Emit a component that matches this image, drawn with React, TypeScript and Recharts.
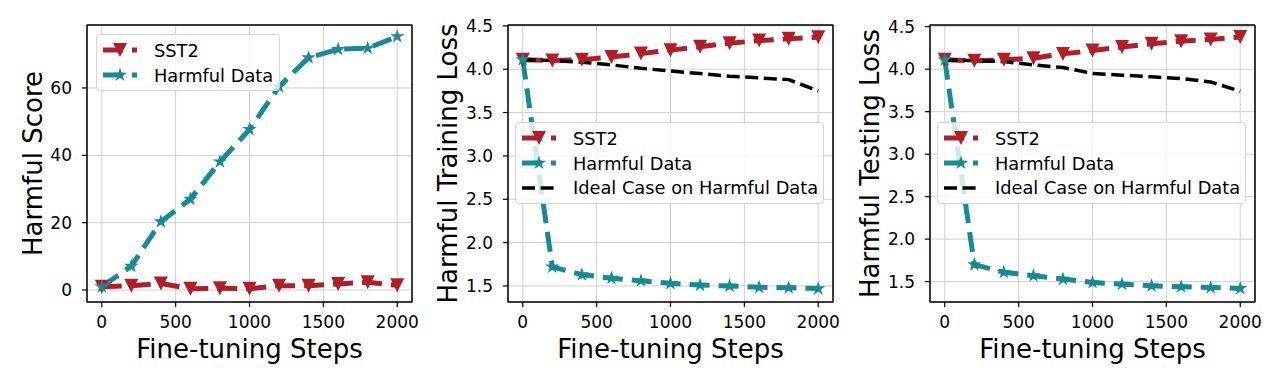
import { LineChart, Line, XAxis, YAxis, CartesianGrid, ReferenceLine, Legend } from "recharts";

const steps = [0, 200, 400, 600, 800, 1000, 1200, 1400, 1600, 1800, 2000];
const xTicks = [0, 500, 1000, 1500, 2000];

// harmful score
const scoreSST2 = [1.0, 1.3, 1.9, 0.4, 0.5, 0.4, 1.3, 1.3, 1.8, 2.3, 1.4];
const scoreHarmful = [1.0, 7.1, 20.3, 27.0, 38.1, 47.7, 60.4, 69.0, 71.5, 71.8, 75.3];
const scoreTicks = [0, 20, 40, 60];

// harmful training loss
const trainSST2 = [4.11, 4.1, 4.11, 4.14, 4.18, 4.22, 4.26, 4.3, 4.33, 4.35, 4.37];
const trainHarmful = [4.11, 1.72, 1.63, 1.59, 1.56, 1.53, 1.51, 1.5, 1.485, 1.48, 1.47];
const trainIdeal = [4.11, 4.1, 4.08, 4.05, 4.01, 3.98, 3.95, 3.92, 3.9, 3.88, 3.75];

// harmful testing loss
const testSST2 = [4.11, 4.1, 4.11, 4.13, 4.18, 4.22, 4.26, 4.3, 4.33, 4.35, 4.38];
const testHarmful = [4.11, 1.7, 1.61, 1.57, 1.53, 1.49, 1.47, 1.45, 1.44, 1.43, 1.42];
const testIdeal = [4.11, 4.1, 4.09, 4.05, 4.02, 3.95, 3.93, 3.91, 3.89, 3.85, 3.74];

const lossTicks = [1.5, 2.0, 2.5, 3.0, 3.5, 4.0, 4.5];

const RED = "#B01F27";
const TEAL = "#178B93";
const FONT = "DejaVu Sans";

const rows = (a: number[], b: number[], c?: number[]) =>
  steps.map((s, i) => ({ step: s, sst2: a[i], harmful: b[i], ideal: c ? c[i] : undefined }));

const triPath = (cx: number, cy: number, s = 7) =>
  `M${cx - s},${cy - s}L${cx + s},${cy - s}L${cx},${cy + s}Z`;

const starPath = (cx: number, cy: number, r = 7.5) => {
  const pts: string[] = [];
  for (let k = 0; k < 10; k++) {
    const rad = k % 2 === 0 ? r : r * 0.382;
    const a = -Math.PI / 2 + (k * Math.PI) / 5;
    pts.push(`${cx + rad * Math.cos(a)},${cy + rad * Math.sin(a)}`);
  }
  return "M" + pts.join("L") + "Z";
};

const TriangleDot = (p: any) => {
  if (p.cx == null || p.cy == null) return <g key={p.index} />;
  return <path key={p.index} d={triPath(p.cx, p.cy)} fill={RED} />;
};

const StarDot = (p: any) => {
  if (p.cx == null || p.cy == null) return <g key={p.index} />;
  return <path key={p.index} d={starPath(p.cx, p.cy)} fill={TEAL} />;
};

const legendItems = [
  { key: "sst2", label: "SST2", color: RED, width: 5, dash: "20 9", marker: "tri" },
  { key: "harmful", label: "Harmful Data", color: TEAL, width: 5, dash: "20 9", marker: "star" },
  { key: "ideal", label: "Ideal Case on Harmful Data", color: "#000", width: 3.5, dash: "13 5.6", marker: "" },
];

const makeLegend = (keys: string[], boxWidth: number) => () => (
  <div
    style={{
      width: boxWidth,
      boxSizing: "border-box",
      background: "rgba(255,255,255,0.8)",
      border: "1px solid #d4d4d4",
      borderRadius: 4,
      padding: "3px 0 3px 6px",
      fontFamily: FONT,
      fontSize: 17.8,
      color: "#000",
    }}
  >
    {legendItems
      .filter((it) => keys.includes(it.key))
      .map((it) => (
        <div key={it.key} style={{ display: "flex", alignItems: "center", height: 24.7 }}>
          <svg width={50} height={20} style={{ flex: "none" }}>
            <line x1={0} y1={10} x2={34} y2={10} stroke={it.color} strokeWidth={it.width} strokeDasharray={it.dash} />
            {it.marker === "tri" && <path d={triPath(17, 10)} fill={it.color} />}
            {it.marker === "star" && <path d={starPath(17, 10)} fill={it.color} />}
          </svg>
          <span style={{ marginLeft: 1, whiteSpace: "nowrap" }}>{it.label}</span>
        </div>
      ))}
  </div>
);

type PanelProps = {
  data: any[];
  yDomain: [number, number];
  yTicks: number[];
  yFmt: (v: number) => string;
  yLabel: string;
  yLabelX: number;
  ideal: boolean;
  legendLeft: number;
  legendTop: number;
  legendWidth: number;
};

const Panel = (p: PanelProps) => (
  <LineChart width={420} height={384} data={p.data} margin={{ top: 25, right: 8, bottom: 0, left: 0 }}>
    <CartesianGrid stroke="#cfcfcf" strokeWidth={1} />
    <XAxis
      dataKey="step"
      type="number"
      domain={[-100, 2100]}
      ticks={xTicks}
      allowDataOverflow
      height={82}
      tickSize={5}
      tickMargin={9}
      tickLine={{ stroke: "#000", strokeWidth: 1.2 }}
      axisLine={{ stroke: "#000", strokeWidth: 1.5 }}
      tick={{ fill: "#000", fontSize: 17, fontFamily: FONT }}
      label={(lp: any) => {
        const vb = lp.viewBox;
        return (
          <text x={vb.x + vb.width / 2} y={vb.y + 56} textAnchor="middle" fontSize={26} fontFamily={FONT} fill="#000">
            Fine-tuning Steps
          </text>
        );
      }}
    />
    <YAxis
      type="number"
      domain={p.yDomain}
      ticks={p.yTicks}
      allowDataOverflow
      width={87}
      tickSize={5}
      tickMargin={10}
      tickFormatter={p.yFmt}
      tickLine={{ stroke: "#000", strokeWidth: 1.2 }}
      axisLine={{ stroke: "#000", strokeWidth: 1.5 }}
      tick={{ fill: "#000", fontSize: 17, fontFamily: FONT }}
      label={(lp: any) => {
        const vb = lp.viewBox;
        const x = vb.x + p.yLabelX;
        const y = vb.y + vb.height / 2;
        return (
          <text x={x} y={y} transform={`rotate(-90, ${x}, ${y})`} textAnchor="middle" fontSize={26} fontFamily={FONT} fill="#000">
            {p.yLabel}
          </text>
        );
      }}
    />
    <ReferenceLine y={p.yDomain[1]} stroke="#000" strokeWidth={1.5} />
    <ReferenceLine x={2100} stroke="#000" strokeWidth={1.5} />
    <Line
      dataKey="sst2"
      name="SST2"
      type="linear"
      stroke={RED}
      strokeWidth={5}
      strokeDasharray="20 9"
      dot={TriangleDot}
      activeDot={false}
      isAnimationActive={false}
    />
    <Line
      dataKey="harmful"
      name="Harmful Data"
      type="linear"
      stroke={TEAL}
      strokeWidth={5}
      strokeDasharray="20 9"
      dot={StarDot}
      activeDot={false}
      isAnimationActive={false}
    />
    {p.ideal && (
      <Line
        dataKey="ideal"
        name="Ideal Case on Harmful Data"
        type="linear"
        stroke="#000"
        strokeWidth={3.5}
        strokeDasharray="13 5.6"
        dot={false}
        activeDot={false}
        isAnimationActive={false}
      />
    )}
    <Legend
      layout="vertical"
      align="center"
      verticalAlign="middle"
      content={makeLegend(p.ideal ? ["sst2", "harmful", "ideal"] : ["sst2", "harmful"], p.legendWidth)}
      wrapperStyle={{ left: p.legendLeft, top: p.legendTop, width: "auto", height: "auto" }}
    />
  </LineChart>
);

export default function App() {
  return (
    <div style={{ position: "absolute", left: 0, top: 0, width: 1280, height: 384, background: "#fff", fontFamily: FONT }}>
      <div style={{ position: "absolute", left: 0, top: 0 }}>
        <Panel
          data={rows(scoreSST2, scoreHarmful)}
          yDomain={[-3.56, 78.7]}
          yTicks={scoreTicks}
          yFmt={(v) => String(v)}
          yLabel="Harmful Score"
          yLabelX={42}
          ideal={false}
          legendLeft={96}
          legendTop={34}
          legendWidth={184}
        />
      </div>
      <div style={{ position: "absolute", left: 421, top: 0 }}>
        <Panel
          data={rows(trainSST2, trainHarmful, trainIdeal)}
          yDomain={[1.315, 4.51]}
          yTicks={lossTicks}
          yFmt={(v) => v.toFixed(1)}
          yLabel="Harmful Training Loss"
          yLabelX={36}
          ideal={true}
          legendLeft={94}
          legendTop={122}
          legendWidth={309}
        />
      </div>
      <div style={{ position: "absolute", left: 843, top: 0 }}>
        <Panel
          data={rows(testSST2, testHarmful, testIdeal)}
          yDomain={[1.26, 4.52]}
          yTicks={lossTicks}
          yFmt={(v) => v.toFixed(1)}
          yLabel="Harmful Testing Loss"
          yLabelX={36}
          ideal={true}
          legendLeft={94}
          legendTop={122}
          legendWidth={309}
        />
      </div>
    </div>
  );
}
